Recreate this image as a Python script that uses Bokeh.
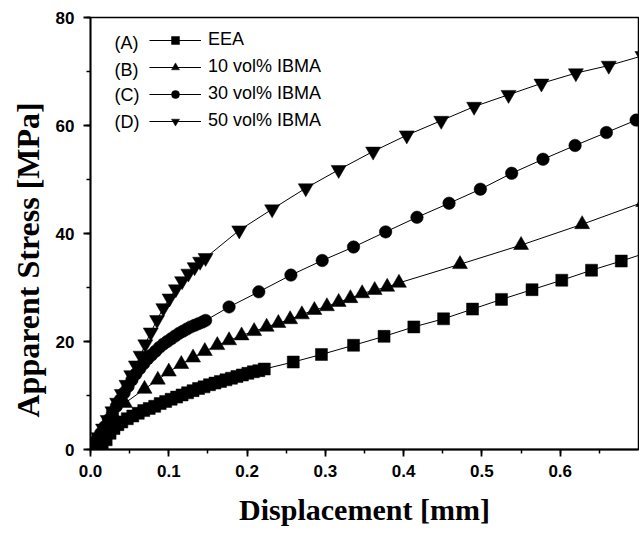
from bokeh.plotting import figure
from bokeh.models import Range1d, Legend, LegendItem, Label, Title, SingleIntervalTicker, PrintfTickFormatter
from bokeh.embed import file_html
from bokeh.resources import INLINE

# (A) EEA
eea_x = [0.015, 0.020, 0.025, 0.030, 0.035, 0.040, 0.047, 0.054, 0.061, 0.068, 0.075,
         0.082, 0.089, 0.096, 0.103, 0.110, 0.117, 0.124, 0.131, 0.138, 0.145, 0.152,
         0.159, 0.166, 0.173, 0.180, 0.187, 0.194, 0.201, 0.208, 0.215, 0.222,
         0.259, 0.295, 0.336, 0.375, 0.413, 0.451, 0.488, 0.525, 0.564, 0.602, 0.640,
         0.678, 0.716]
eea_y = [0.5, 1.8, 3.0, 3.9, 4.6, 5.1, 5.7, 6.2, 6.7, 7.2, 7.6,
         8.0, 8.5, 8.9, 9.3, 9.7, 10.1, 10.5, 10.9, 11.3, 11.6, 12.0,
         12.3, 12.6, 12.9, 13.2, 13.5, 13.8, 14.1, 14.4, 14.6, 14.9,
         16.2, 17.6, 19.3, 20.95, 22.7, 24.2, 26.0, 27.8, 29.6, 31.35, 33.2,
         34.9, 36.7]

# (B) 10 vol% IBMA
b_x = [0.008, 0.018, 0.030, 0.044, 0.069, 0.086, 0.100, 0.116, 0.131, 0.146, 0.162,
       0.177, 0.193, 0.209, 0.225, 0.240, 0.255, 0.270, 0.286, 0.302, 0.317, 0.332,
       0.347, 0.363, 0.379, 0.394, 0.472, 0.550, 0.628, 0.706]
b_y = [1.5, 3.8, 6.2, 8.6, 11.2, 12.9, 14.4, 15.8, 17.0, 18.2, 19.3,
       20.2, 21.1, 21.9, 22.7, 23.4, 24.1, 25.0, 25.8, 26.5, 27.3, 28.0,
       28.9, 29.5, 30.1, 30.85, 34.3, 37.85, 41.7, 45.8]

# (C) 30 vol% IBMA
c_x = [0.003, 0.008, 0.013, 0.018, 0.023, 0.028, 0.033, 0.038, 0.043, 0.048, 0.053,
       0.058, 0.063, 0.068, 0.073, 0.078, 0.083, 0.088, 0.093, 0.098, 0.103, 0.108,
       0.113, 0.118, 0.123, 0.128, 0.133, 0.138, 0.143, 0.147,
       0.177, 0.215, 0.256, 0.296, 0.336, 0.377, 0.417, 0.458, 0.498, 0.538, 0.578,
       0.619, 0.659, 0.697]
c_y = [0.6, 1.8, 3.0, 4.2, 5.5, 6.8, 8.0, 9.2, 10.5, 11.7, 12.9,
       14.0, 15.0, 15.9, 16.8, 17.5, 18.2, 18.9, 19.5, 20.0, 20.5, 21.0,
       21.5, 21.9, 22.3, 22.7, 23.0, 23.3, 23.6, 23.9,
       26.4, 29.2, 32.3, 35.0, 37.5, 40.3, 43.0, 45.6, 48.2, 51.15, 53.75,
       56.3, 58.7, 61.0]

# (D) 50 vol% IBMA
d_x = [0.004, 0.010, 0.016, 0.022, 0.028, 0.034, 0.040, 0.046, 0.052, 0.058, 0.064,
       0.070, 0.077, 0.085, 0.093, 0.101, 0.109, 0.117, 0.125, 0.133, 0.140, 0.147,
       0.190, 0.232, 0.275, 0.317, 0.361, 0.404, 0.448, 0.490, 0.534, 0.576, 0.620,
       0.662, 0.705]
d_y = [0.8, 2.3, 3.9, 5.5, 7.1, 8.7, 10.3, 12.0, 13.8, 15.6, 17.4,
       19.5, 21.7, 24.0, 26.2, 28.0, 29.7, 31.2, 32.6, 33.8, 34.8, 35.5,
       40.6, 44.5, 48.4, 51.8, 55.2, 58.2, 60.9, 63.5, 65.7, 67.8, 69.7,
       71.1, 72.9]

series_names = ["EEA", "10 vol% IBMA", "30 vol% IBMA", "50 vol% IBMA"]
series_tags = ["(A)", "(B)", "(C)", "(D)"]
x_label = "Displacement [mm]"
y_label = "Apparent Stress [MPa]"

p = figure(width=639, height=534, output_backend="svg", toolbar_location=None,
           x_range=Range1d(0, 0.700), y_range=Range1d(0, 80),
           min_border_left=89, min_border_top=17, min_border_right=1, min_border_bottom=85)
p.background_fill_color = "white"
p.border_fill_color = "white"
p.outline_line_color = "black"
p.outline_line_width = 1.5
p.xgrid.visible = False
p.ygrid.visible = False

p.xaxis.ticker = SingleIntervalTicker(interval=0.1, num_minor_ticks=2)
p.yaxis.ticker = SingleIntervalTicker(interval=20, num_minor_ticks=2)
p.xaxis.formatter = PrintfTickFormatter(format="%.1f")
for ax in (p.xaxis, p.yaxis):
    ax.axis_line_width = 1.8
    ax.axis_line_color = "black"
    ax.major_tick_line_width = 1.8
    ax.minor_tick_line_width = 1.5
    ax.major_tick_in = 0
    ax.major_tick_out = 7
    ax.minor_tick_in = 0
    ax.minor_tick_out = 4
    ax.major_label_text_font = "Liberation Sans"
    ax.major_label_text_font_style = "bold"
    ax.major_label_text_font_size = "17px"
    ax.major_label_text_color = "black"
p.xaxis.major_label_standoff = 8
p.yaxis.major_label_standoff = 9
p.xaxis.axis_label = x_label
p.xaxis.axis_label_text_font = "Liberation Serif"
p.xaxis.axis_label_text_font_style = "bold"
p.xaxis.axis_label_text_font_size = "30px"
p.xaxis.axis_label_standoff = 13
p.xaxis.axis_label_text_color = "black"

ytitle = Title(text=y_label, align="left", offset=32, standoff=14,
               text_font="Liberation Serif", text_font_style="bold",
               text_font_size="32px", text_color="black")
p.add_layout(ytitle, "left")

data = [(eea_x, eea_y, "square", 12), (b_x, b_y, "triangle", 15),
        (c_x, c_y, "circle", 12.5), (d_x, d_y, "inverted_triangle", 15)]
items = []
for (xs, ys, mk, sz), name in zip(data, series_names):
    lr = p.line(xs, ys, line_color="black", line_width=1)
    sr = p.scatter(xs, ys, marker=mk, size=sz, fill_color="black", line_color="black", line_width=0.5)
    items.append(LegendItem(label=name, renderers=[lr, sr]))

legend = Legend(items=items, location=(59, 318), orientation="vertical",
                glyph_width=52, glyph_height=20, label_height=20, label_width=10,
                spacing=6, padding=0, margin=0, label_standoff=7,
                border_line_color=None, background_fill_alpha=0,
                label_text_font="Liberation Sans", label_text_font_size="18px",
                label_text_color="black")
p.add_layout(legend)

tag_y = [75.19, 70.37, 65.56, 60.74]
for tag, ty in zip(series_tags, tag_y):
    p.add_layout(Label(x=0.0306, y=ty, x_units="data", y_units="data", text=tag,
                       text_align="left", text_baseline="middle",
                       text_font="Liberation Sans", text_font_size="18px",
                       text_color="black"))

open("out.html", "w").write(file_html(p, INLINE))
